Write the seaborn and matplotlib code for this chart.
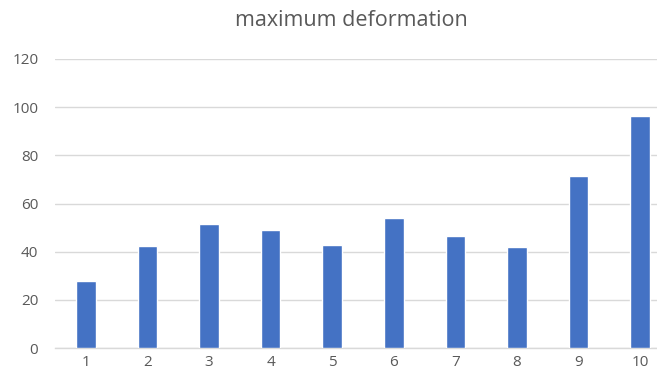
import matplotlib
matplotlib.use("Agg")
import matplotlib.pyplot as plt
import seaborn as sns
import pandas as pd

categories = ["1", "2", "3", "4", "5", "6", "7", "8", "9", "10"]
values = [27.7, 42.5, 51.6, 49.0, 42.8, 54.1, 46.5, 41.8, 71.4, 96.3]
yticks = [0, 20, 40, 60, 80, 100, 120]
title = "maximum deformation"

sns.set_theme(style="white")
plt.rcParams['font.family'] = ['Open Sans', 'DejaVu Sans']

df = pd.DataFrame({"cat": categories, "val": values})

fig = plt.figure(figsize=(6.57, 3.76), dpi=100)
W, H = 657, 376
left, right, top, bottom = 55, 671, 59, 348
ax = fig.add_axes([left / W, 1 - bottom / H, (right - left) / W, (bottom - top) / H])

sns.barplot(data=df, x="cat", y="val", order=categories, color="#4472C4",
            width=0.32, saturation=1, ax=ax, zorder=3)

ax.set_ylim(0, 120)
ax.set_yticks(yticks)
ax.set_xlim(-0.5, len(categories) - 0.5)
ax.yaxis.grid(True, color="#d9d9d9", linewidth=1.0, zorder=0)
ax.set_axisbelow(True)
for s in ["top", "right", "left"]:
    ax.spines[s].set_visible(False)
ax.spines["bottom"].set_color("#d9d9d9")
ax.spines["bottom"].set_linewidth(1.0)
ax.set_xlabel("")
ax.set_ylabel("")
ax.tick_params(axis="both", length=0, colors="#595959", labelsize=11)
ax.tick_params(axis="y", pad=12)
ax.tick_params(axis="x", pad=5)
fig.text(351 / W, 1 - 20 / H, title, ha="center", va="center",
         fontsize=15.5, color="#595959")

fig.savefig("out.png", dpi=100)
